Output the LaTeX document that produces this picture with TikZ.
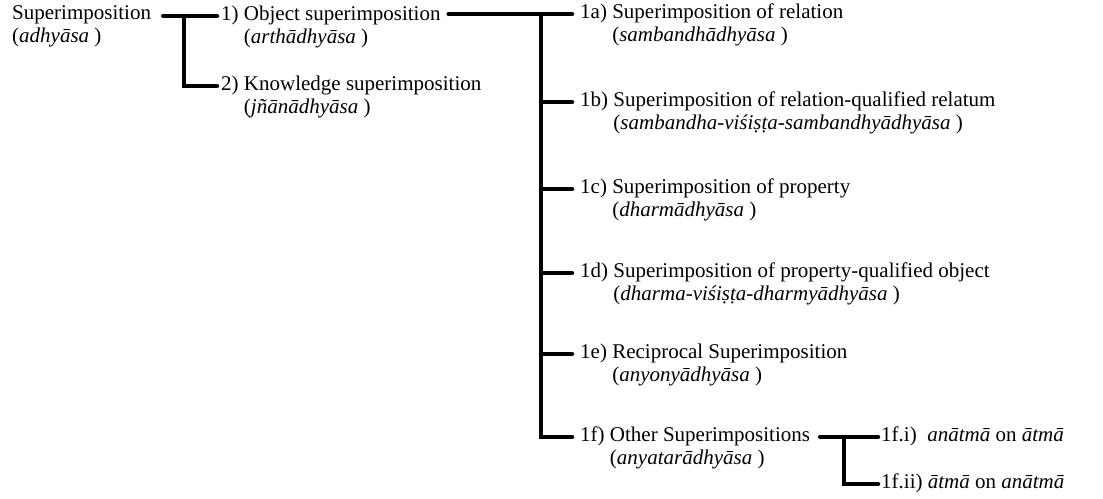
\documentclass[tikz,border=0pt]{standalone}
\usepackage{fontspec}
\setmainfont{Liberation Serif}
\begin{document}
\begin{tikzpicture}[x=1pt,y=-1pt,
  item/.style={anchor=west,inner sep=0pt,text height=14pt,text depth=5pt,
    font=\fontsize{21}{23}\selectfont},
  conn/.style={line width=4.5pt,line cap=round,draw=black}]
\useasboundingbox (0,0) rectangle (1103,498);

% level 0
\node[item] (root)  at (12,15) {Superimposition};
\node[item] (rootx) at (12,38) {(\textit{adhyāsa} )};

% level 1 (second lines hang under the first word)
\node[item] (n1)  at (221,16) {1) Object superimposition};
\node[item] (n1x) at (221,39) {\hphantom{1)\ }(\textit{arthādhyāsa} )};
\node[item] (n2)  at (221,86) {2) Knowledge superimposition};
\node[item] (n2x) at (221,109) {\hphantom{2)\ }(\textit{jñānādhyāsa} )};

% level 2
\node[item] (n1a)  at (580,14)  {1a) Superimposition of relation};
\node[item] (n1ax) at (580,37)  {\hphantom{1a)\ }(\textit{sambandhādhyāsa} )};
\node[item] (n1b)  at (580,102) {1b) Superimposition of relation-qualified relatum};
\node[item] (n1bx) at (580,125) {\hphantom{1b)\ }(\textit{sambandha-viśiṣṭa-sambandhyādhyāsa} )};
\node[item] (n1c)  at (580,189) {1c) Superimposition of property};
\node[item] (n1cx) at (580,212) {\hphantom{1c)\ }(\textit{dharmādhyāsa} )};
\node[item] (n1d)  at (580,273) {1d) Superimposition of property-qualified object};
\node[item] (n1dx) at (580,296) {\hphantom{1d)\ }(\textit{dharma-viśiṣṭa-dharmyādhyāsa} )};
\node[item] (n1e)  at (580,354) {1e) Reciprocal Superimposition};
\node[item] (n1ex) at (580,377) {\hphantom{1e)\ }(\textit{anyonyādhyāsa} )};
\node[item] (n1f)  at (580,437) {1f) Other Superimpositions};
\node[item] (n1fx) at (580,460) {\hphantom{1f)\ }(\textit{anyatarādhyāsa} )};

% level 3
\node[item] (n1fi)  at (881,437) {1f.i)\ \ \textit{anātmā} on \textit{ātmā}};
\node[item] (n1fii) at (881,484) {1f.ii) \textit{ātmā} on \textit{anātmā}};

% bracket spines
\coordinate (b1) at (184,16);
\coordinate (b2) at (541,14);
\coordinate (b3) at (844,437);

% root -> 1), 2)
\draw[conn] ([xshift=12pt]root.east |- n1.west) -- ([xshift=-4pt]n1.west);
\draw[conn] (b1) |- ([xshift=-4pt]n2.west);

% 1) -> 1a ... 1f
\draw[conn] ([xshift=8pt]n1.east |- n1a.west) -- ([xshift=-8pt]n1a.west);
\draw[conn] (b2) |- ([xshift=-8pt]n1f.west);
\foreach \k in {b,c,d,e}
  \draw[conn] (b2 |- n1\k.west) -- ([xshift=-8pt]n1\k.west);

% 1f) -> 1f.i, 1f.ii
\draw[conn] ([xshift=10pt]n1f.east) -- ([xshift=-3pt]n1fi.west);
\draw[conn] (b3) |- ([xshift=-3pt]n1fii.west);
\end{tikzpicture}
\end{document}
